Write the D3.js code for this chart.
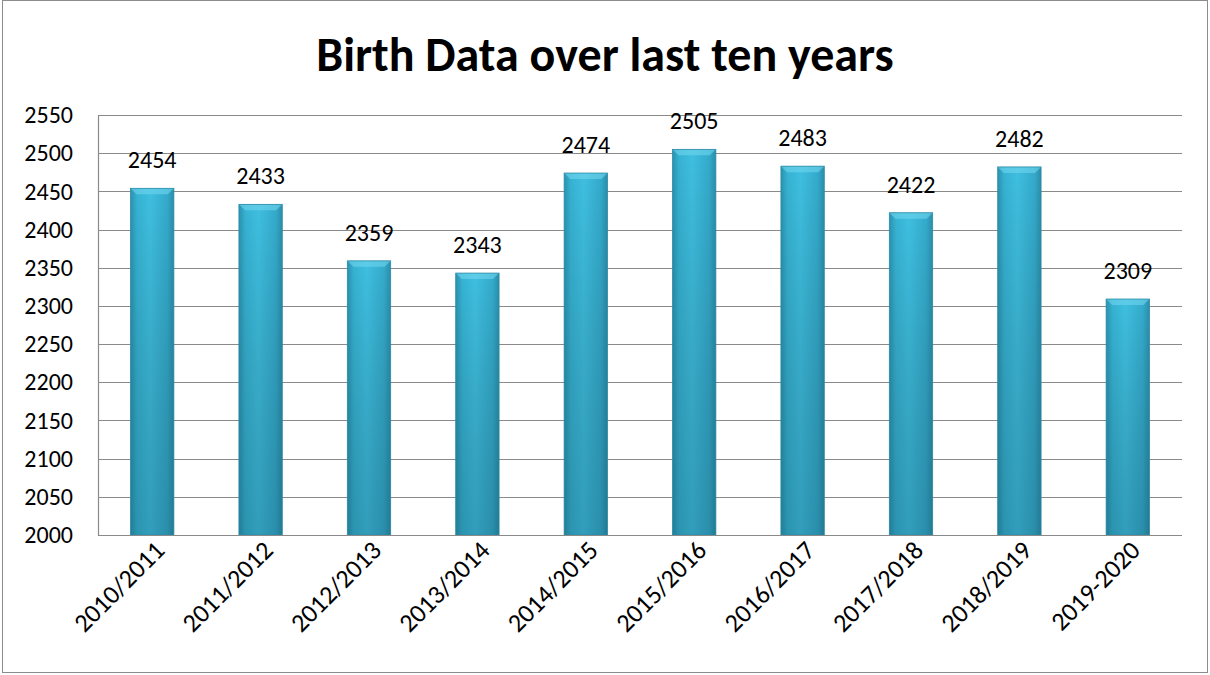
<!DOCTYPE html>
<html lang="en">
<head>
    <meta charset="UTF-8">
    <title>Birth Data over last ten years</title>
    <style>
        body, html {
            margin: 0;
            padding: 0;
            background: #fff;
            font-family: Carlito, Calibri, "Open Sans", Arial, sans-serif;
        }
        #chart { width: 1210px; height: 675px; }
    </style>
    <script src="https://d3js.org/d3.v7.min.js"></script>
</head>
<body>
    <div id="chart"></div>
    <script>
        const years = ["2010/2011", "2011/2012", "2012/2013", "2013/2014", "2014/2015",
                       "2015/2016", "2016/2017", "2017/2018", "2018/2019", "2019-2020"];
        const births = [2454, 2433, 2359, 2343, 2474, 2505, 2483, 2422, 2482, 2309];
        const yTicks = [2000, 2050, 2100, 2150, 2200, 2250, 2300, 2350, 2400, 2450, 2500, 2550];

        const W = 1210, H = 675;
        const margin = { top: 115, right: 28, bottom: 140, left: 98 },
            width = W - margin.left - margin.right,
            height = H - margin.top - margin.bottom;

        const root = d3.select("#chart").append("svg")
            .attr("width", W)
            .attr("height", H);

        // chart border
        root.append("rect")
            .attr("x", 2.5).attr("y", 0.5)
            .attr("width", W - 5).attr("height", H - 3)
            .attr("fill", "#fff")
            .attr("stroke", "#8c8c8c");

        const defs = root.append("defs");
        const grad = defs.append("linearGradient").attr("id", "barGrad")
            .attr("x1", "0").attr("x2", "1").attr("y1", "0").attr("y2", "0");
        grad.append("stop").attr("offset", "0%").attr("stop-color", "#2a93b0");
        grad.append("stop").attr("offset", "15%").attr("stop-color", "#36b2d2");
        grad.append("stop").attr("offset", "45%").attr("stop-color", "#3fbfe0");
        grad.append("stop").attr("offset", "85%").attr("stop-color", "#34aacb");
        grad.append("stop").attr("offset", "100%").attr("stop-color", "#2a8fab");

        const shade = defs.append("linearGradient").attr("id", "barShade")
            .attr("x1", "0").attr("x2", "0").attr("y1", "0").attr("y2", "1");
        shade.append("stop").attr("offset", "0%").attr("stop-color", "#000").attr("stop-opacity", 0);
        shade.append("stop").attr("offset", "100%").attr("stop-color", "#0b3a4a").attr("stop-opacity", 0.25);

        const svg = root.append("g")
            .attr("transform", `translate(${margin.left},${margin.top})`);

        const x = d3.scaleBand()
            .domain(years)
            .range([0, width])
            .paddingInner(0.6)
            .paddingOuter(0.3);

        const y = d3.scaleLinear()
            .domain([2000, 2550])
            .range([height, 0]);

        // gridlines
        svg.append("g")
            .selectAll("line")
            .data(yTicks)
            .join("line")
            .attr("x1", 0).attr("x2", width)
            .attr("y1", d => Math.round(y(d)) + 0.5)
            .attr("y2", d => Math.round(y(d)) + 0.5)
            .attr("stroke", "#8a8a8a")
            .attr("stroke-width", 1.2);

        // y axis
        const yAxis = svg.append("g")
            .call(d3.axisLeft(y).tickValues(yTicks).tickFormat(d3.format("d")).tickSize(0).tickPadding(25));
        yAxis.select(".domain").attr("stroke", "#8a8a8a").attr("stroke-width", 1.2);
        yAxis.selectAll("text")
            .attr("font-family", "Carlito, Calibri, 'Open Sans', Arial, sans-serif")
            .attr("font-size", 24)
            .attr("fill", "#000");

        // bars
        const bars = svg.append("g").selectAll("g")
            .data(births)
            .join("g");

        bars.append("rect")
            .attr("x", (d, i) => x(years[i]))
            .attr("y", d => y(d))
            .attr("width", x.bandwidth())
            .attr("height", d => height - y(d))
            .attr("fill", "url(#barGrad)");

        bars.append("rect")
            .attr("x", (d, i) => x(years[i]))
            .attr("y", d => y(d))
            .attr("width", x.bandwidth())
            .attr("height", d => height - y(d))
            .attr("fill", "url(#barShade)");

        // top bevel
        const bev = 6;
        bars.append("path")
            .attr("d", (d, i) => {
                const x0 = x(years[i]), x1 = x0 + x.bandwidth(), t = y(d);
                return `M${x0},${t}L${x1},${t}L${x1 - bev},${t + bev}L${x0 + bev},${t + bev}Z`;
            })
            .attr("fill", "#6fd6ee")
            .attr("opacity", 0.6);

        // edges
        bars.append("rect")
            .attr("x", (d, i) => x(years[i]))
            .attr("y", d => y(d))
            .attr("width", x.bandwidth())
            .attr("height", d => height - y(d))
            .attr("fill", "none")
            .attr("stroke", "#2b8aa5")
            .attr("stroke-width", 0.8);

        // bottom axis line
        svg.append("line")
            .attr("x1", 0).attr("x2", width)
            .attr("y1", Math.round(height) + 0.5).attr("y2", Math.round(height) + 0.5)
            .attr("stroke", "#8a8a8a")
            .attr("stroke-width", 1.2);

        // data labels
        svg.append("g").selectAll("text")
            .data(births)
            .join("text")
            .attr("x", (d, i) => x(years[i]) + x.bandwidth() / 2)
            .attr("y", d => y(d) - 20)
            .attr("text-anchor", "middle")
            .attr("font-size", 24)
            .attr("fill", "#000")
            .text(d => d);

        // category labels
        svg.append("g").selectAll("text")
            .data(years)
            .join("text")
            .attr("transform", d => `translate(${x(d) + x.bandwidth() / 2 + 1},${height + 4}) rotate(-45)`)
            .attr("text-anchor", "end")
            .attr("dy", "0.7em")
            .attr("font-size", 26)
            .attr("fill", "#000")
            .text(d => d);

        // title
        root.append("text")
            .attr("x", W / 2)
            .attr("y", 71)
            .attr("text-anchor", "middle")
            .attr("font-size", 48)
            .attr("font-weight", "bold")
            .attr("fill", "#000")
            .text("Birth Data over last ten years");
    </script>
</body>
</html>
